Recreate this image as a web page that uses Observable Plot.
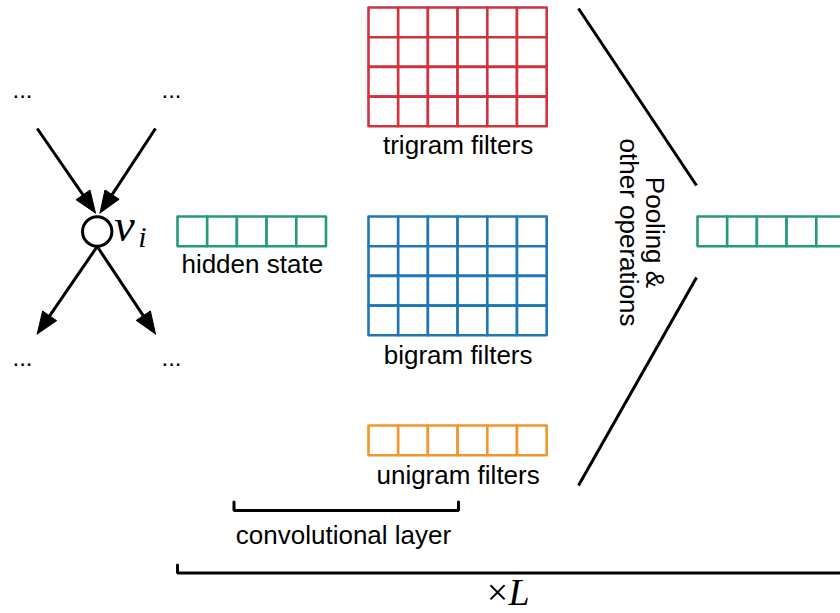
<!DOCTYPE html>
<html><head><meta charset="utf-8">
<script src="https://cdn.jsdelivr.net/npm/d3@7"></script>
<script src="https://cdn.jsdelivr.net/npm/@observablehq/plot@0.6"></script>
<style>
html,body{margin:0;padding:0;background:#fff;overflow:hidden}
#chart svg{overflow:hidden;display:block}
</style>
</head><body><div id="chart"></div>
<script>
// ---------------- data ----------------
const filterNames = ["trigram filters", "bigram filters", "unigram filters"];
const filterRows = [4, 4, 1];
const filterCols = [6, 6, 6];
const filterColors = ["#cf3340", "#2077b5", "#f1952d"];
const stateCells = 5;
const stateLabel = "hidden state";
const stateColor = "#27997d";
const neighborLabel = "...";
const nodeLabel = ["v", "i"];
const opLabelLines = ["Pooling &", "other operations"];
const convLabel = "convolutional layer";
const repeatLabel = ["×", "L"];

// ---------------- layout (pixels) ----------------
const W = 840, H = 613;
const CELL = 29.7;
const gridX0 = 368.5;
const gridTop = [7.5, 216.5, 425.5];
const gridLabelBase = [153, 363, 483];
const stateX0 = 177.5, stateY0 = 216.5, outX0 = 697.5;
const node = {x: 96.7, y: 231, r: 14.7};
const SANS = "Liberation Sans, Arial, sans-serif";
const SERIF = "Liberation Serif, Times New Roman, serif";
const FS = 26;

// cells
const cells = [];
filterNames.forEach((name, k) => {
  for (let r = 0; r < filterRows[k]; r++)
    for (let c = 0; c < filterCols[k]; c++)
      cells.push({x1: gridX0 + c * CELL, x2: gridX0 + (c + 1) * CELL,
                  y1: gridTop[k] + r * CELL, y2: gridTop[k] + (r + 1) * CELL, color: filterColors[k]});
});
for (const x0 of [stateX0, outX0])
  for (let c = 0; c < stateCells; c++)
    cells.push({x1: x0 + c * CELL, x2: x0 + (c + 1) * CELL, y1: stateY0, y2: stateY0 + CELL, color: stateColor});

// arrows (edges of the graph around node v_i)
const arrows = [
  {x1: 36.7, y1: 128, x2: node.x - 1.7, y2: node.y - 18.5},
  {x1: 155, y1: 128, x2: node.x + 2.8, y2: node.y - 18.5},
  {x1: node.x, y1: node.y + 15, x2: 36.7, y2: 333.5},
  {x1: node.x, y1: node.y + 15, x2: 155, y2: 333.5}
];
const HEAD_L = 22, HEAD_W = 8.5;
const shafts = [], heads = [];
arrows.forEach((a, i) => {
  const dx = a.x2 - a.x1, dy = a.y2 - a.y1, len = Math.hypot(dx, dy);
  const ux = dx / len, uy = dy / len;
  const bx = a.x2 - ux * HEAD_L, by = a.y2 - uy * HEAD_L;
  shafts.push({x1: a.x1, y1: a.y1, x2: a.x2 - ux * 8, y2: a.y2 - uy * 8});
  heads.push({id: i, x: a.x2, y: a.y2});
  heads.push({id: i, x: bx - uy * HEAD_W, y: by + ux * HEAD_W});
  heads.push({id: i, x: bx + uy * HEAD_W, y: by - ux * HEAD_W});
  heads.push({id: i, x: a.x2, y: a.y2});
});

const neighbors = [
  {x: 22, y: 97}, {x: 171, y: 97}, {x: 22, y: 365}, {x: 171, y: 365}
];

// pooling lines
const poolLines = [
  {x1: 578, y1: 8, x2: 696, y2: 185},
  {x1: 696, y1: 277, x2: 578, y2: 485}
];

// brackets
const brackets = [
  {id: "conv", x: 233.5, y: 501.5}, {id: "conv", x: 233.5, y: 510}, {id: "conv", x: 458, y: 510}, {id: "conv", x: 458, y: 501.5},
  {id: "layer", x: 177, y: 564.5}, {id: "layer", x: 177, y: 572.5}, {id: "layer", x: 850, y: 572.5}
];

const gridLabels = filterNames.map((t, k) => ({t, x: gridX0 + filterCols[k] * CELL / 2, y: gridLabelBase[k]}));

const chart = Plot.plot({
  width: W, height: H,
  margin: 0,
  x: {domain: [0, W], range: [0, W], axis: null},
  y: {domain: [0, H], range: [0, H], axis: null},
  style: {background: "#fff", overflow: "hidden"},
  marks: [
    Plot.rect(cells, {x1: "x1", x2: "x2", y1: "y1", y2: "y2", fill: "white", stroke: d => d.color, strokeWidth: 2.6, strokeLinejoin: "round"}),
    Plot.link(shafts, {x1: "x1", y1: "y1", x2: "x2", y2: "y2", stroke: "black", strokeWidth: 3}),
    Plot.line(heads, {x: "x", y: "y", z: "id", fill: "black", stroke: "black", strokeWidth: 1, strokeLinejoin: "miter"}),
    Plot.dot([node], {x: "x", y: "y", r: node.r, fill: "white", stroke: "black", strokeWidth: 3}),
    Plot.text(neighbors, {x: "x", y: "y", text: () => neighborLabel, fontFamily: SANS, fontSize: 24, textAnchor: "middle", lineAnchor: "bottom", fill: "black"}),
    Plot.text([node], {x: d => d.x + 17, y: d => d.y + 9, text: () => nodeLabel[0], fontFamily: SERIF, fontStyle: "italic", fontSize: 46, textAnchor: "start", lineAnchor: "bottom", fill: "black"}),
    Plot.text([node], {x: d => d.x + 41, y: d => d.y + 15, text: () => nodeLabel[1], fontFamily: SERIF, fontStyle: "italic", fontSize: 30, textAnchor: "start", lineAnchor: "bottom", fill: "black"}),
    Plot.link(poolLines, {x1: "x1", y1: "y1", x2: "x2", y2: "y2", stroke: "black", strokeWidth: 3}),
    Plot.line(brackets, {x: "x", y: "y", z: "id", stroke: "black", strokeWidth: 3, strokeLinejoin: "miter"}),
    Plot.text(gridLabels, {x: "x", y: "y", text: "t", fontFamily: SANS, fontSize: FS, textAnchor: "middle", lineAnchor: "bottom", fill: "black"}),
    Plot.text([stateLabel], {x: stateX0 + stateCells * CELL / 2, y: 272, text: d => d, fontFamily: SANS, fontSize: FS, textAnchor: "middle", lineAnchor: "bottom", fill: "black"}),
    Plot.text(opLabelLines, {x: (d, i) => [645, 619][i], y: 232, text: d => d, rotate: 90, fontFamily: SANS, fontSize: FS, textAnchor: "middle", lineAnchor: "bottom", fill: "black"}),
    Plot.text([convLabel], {x: 343, y: 543, text: d => d, fontFamily: SANS, fontSize: FS, textAnchor: "middle", lineAnchor: "bottom", fill: "black"}),
    Plot.text([repeatLabel[0]], {x: 497, y: 604, text: d => d, fontFamily: SERIF, fontSize: 38, textAnchor: "middle", lineAnchor: "bottom", fill: "black"}),
    Plot.text([repeatLabel[1]], {x: 508, y: 604, text: d => d, fontFamily: SERIF, fontStyle: "italic", fontSize: 38, textAnchor: "start", lineAnchor: "bottom", fill: "black"})
  ]
});
document.getElementById("chart").appendChild(chart);
</script>
</body></html>
